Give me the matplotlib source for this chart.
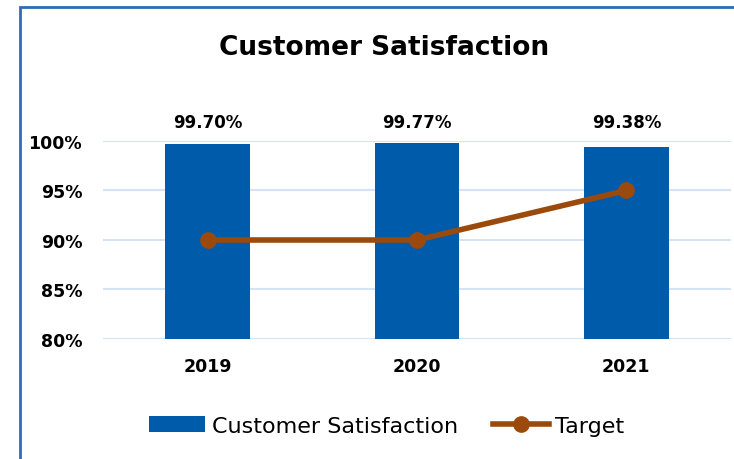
import matplotlib
matplotlib.use("Agg")
import matplotlib.pyplot as plt
from matplotlib.patches import Rectangle
from matplotlib.ticker import FuncFormatter

years = ["2019", "2020", "2021"]
satisfaction = [99.70, 99.77, 99.38]
target = [90, 90, 95]
y_ticks = [80, 85, 90, 95, 100]

bar_color = "#005BAA"
line_color = "#9C4A0B"
grid_color = "#D6E3F3"

plt.rcParams["font.family"] = ["DejaVu Sans"]

fig = plt.figure(figsize=(7.34, 4.6), dpi=100)
ax = fig.add_axes([103 / 734, 1 - 340 / 460, 628 / 734, 198 / 460])

x = list(range(len(years)))
bars = ax.bar(x, satisfaction, width=0.405, color=bar_color, zorder=2,
              label="Customer Satisfaction")
line, = ax.plot(x, target, color=line_color, lw=4, marker="o", ms=11, zorder=3,
                label="Target")

for xi, v in zip(x, satisfaction):
    ax.annotate(f"{v:.2f}%", (xi, 100), xytext=(0, 7), textcoords="offset points",
                ha="center", va="bottom", fontsize=12, fontweight="bold")

ax.set_xlim(-0.5, 2.5)
ax.set_ylim(80, 100)
ax.set_yticks(y_ticks)
ax.yaxis.set_major_formatter(FuncFormatter(lambda v, p: f"{v:.0f}%"))
ax.set_xticks(x)
ax.set_xticklabels(years)
ax.tick_params(length=0, labelsize=12.5)
ax.tick_params(axis="y", pad=15)
ax.tick_params(axis="x", pad=13)
for lbl in ax.get_xticklabels() + ax.get_yticklabels():
    lbl.set_fontweight("bold")
ax.grid(axis="y", color=grid_color, lw=1.5, zorder=0)
for s in ax.spines.values():
    s.set_visible(False)

fig.text(384 / 734, 1 - 48 / 460, "Customer Satisfaction", ha="center", va="center",
         fontsize=19, fontweight="bold")

fig.legend([bars, line], ["Customer Satisfaction", "Target"], loc="center",
           bbox_to_anchor=(387 / 734, 1 - 427 / 460), ncol=2,
           frameon=False, fontsize=16, handlelength=2.5, handleheight=0.7,
           columnspacing=1.6, handletextpad=0.3)

# outer frame, open on the right and bottom
fig.patches.append(Rectangle((20 / 734, -0.1), 2, 1.1 - 8 / 460,
                             transform=fig.transFigure, fill=False,
                             edgecolor="#2E6DB4", lw=2))

fig.savefig("out.png", dpi=100)
